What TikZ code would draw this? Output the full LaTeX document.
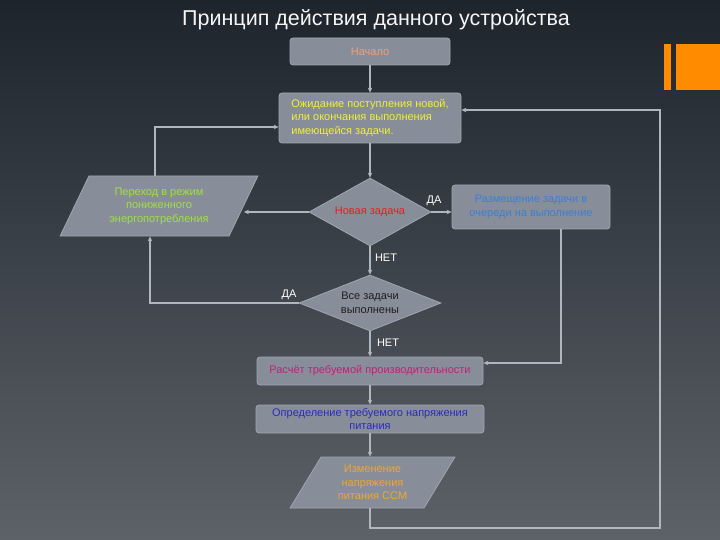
\documentclass[tikz,border=0pt]{standalone}
\usepackage{fontspec}
\setmainfont{Liberation Sans}
\usetikzlibrary{shapes.geometric,arrows.meta}
\definecolor{bgtop}{RGB}{30,36,44}
\definecolor{bgmid}{RGB}{40,47,56}
\definecolor{bgbot}{RGB}{92,98,104}
\definecolor{boxfill}{RGB}{136,142,153}
\definecolor{boxline}{RGB}{160,166,174}
\definecolor{linec}{RGB}{176,182,190}
\definecolor{orangebar}{RGB}{255,140,0}
\definecolor{tstart}{RGB}{240,160,120}
\definecolor{twait}{RGB}{240,240,50}
\definecolor{tpe}{RGB}{160,224,64}
\definecolor{tnz}{RGB}{224,32,32}
\definecolor{tpl}{RGB}{58,127,216}
\definecolor{tvz}{RGB}{30,30,30}
\definecolor{tcalc}{RGB}{192,32,122}
\definecolor{tdet}{RGB}{42,42,192}
\definecolor{tchg}{RGB}{240,165,50}
\begin{document}
\begin{tikzpicture}[x=1pt,y=-1pt,
  box/.style={draw=boxline, fill=boxfill, rounded corners=3pt, line width=0.8pt,
    inner sep=2pt, align=center, font=\fontsize{11}{13.5}\selectfont},
  dia/.style={diamond, draw=boxline, fill=boxfill, line width=0.8pt, inner sep=0pt,
    align=center, font=\fontsize{11}{13.5}\selectfont},
  para/.style={trapezium, trapezium stretches=true, draw=boxline, fill=boxfill,
    line width=0.8pt, inner sep=0pt, align=center, font=\fontsize{11}{13.5}\selectfont},
  conn/.style={draw=linec, line width=1.2pt, -{Stealth[length=5pt,width=4.5pt]}},
  lbl/.style={text=white, font=\fontsize{11}{13}\selectfont, inner sep=1pt}]
\useasboundingbox (0,0) rectangle (720,540);
\shade[top color=bgtop, middle color=bgmid, bottom color=bgbot] (0,0) rectangle (720,540);
% title
\node[text=white!92!gray, font=\fontsize{21.5}{24}\selectfont] (title) at (376,20) {Принцип действия данного устройства};
% orange bar
\fill[orangebar] (664,44) rectangle (671,90);
\fill[orangebar] (676,44) rectangle (720,90);
% nodes
\node[box, minimum width=160, minimum height=27, text=tstart] (start) at (370,51.5) {Начало};
\node[box, minimum width=182, minimum height=50, align=left, text=twait] (wait) at (370,118)
  {Ожидание поступления новой,\\или окончания выполнения\\имеющейся задачи.};
\node[para, trapezium left angle=61, trapezium right angle=119, minimum width=198, minimum height=60, text=tpe] (pe) at (159,206)
  {Переход в режим\\пониженного\\энергопотребления};
\node[dia, aspect=2.2, minimum width=122, minimum height=68, text=tnz] (nz) at (370,212) {Новая задача};
\node[box, minimum width=158, minimum height=44, text=tpl] (pl) at (531,207) {Размещение задачи в\\очереди на выполнение};
\node[dia, aspect=2.6, minimum width=142, minimum height=56, text=tvz] (vz) at (370,303) {Все задачи\\выполнены};
\node[box, minimum width=226, minimum height=28, text=tcalc] (calc) at (370,371) {Расчёт требуемой производительности};
\node[box, minimum width=228, minimum height=28, text=tdet] (det) at (370,419) {Определение требуемого напряжения\\питания};
\node[para, trapezium left angle=59, trapezium right angle=121, minimum width=165, minimum height=51, text=tchg] (chg) at (372.5,482.5)
  {Изменение\\напряжения\\питания ССМ};
% connectors
\draw[conn] (start.south) -- (wait.north);
\draw[conn] (wait.south) -- (nz.north);
\draw[conn] (nz.west) -- (nz.west -| pe.east);
\draw[conn] (pe.north -| 155,0) |- ([yshift=-9pt]wait.west);
\draw[conn] (nz.east) -- (nz.east -| pl.west);
\draw[conn] (pl.south -| 561,0) |- ([yshift=8pt]calc.east);
\draw[conn] (nz.south) -- (vz.north);
\draw[conn] (vz.west) -| (pe.south -| 150,0);
\draw[conn] (vz.south) -- (calc.north);
\draw[conn] (calc.south) -- (det.north);
\draw[conn] (det.south) -- (det.south |- chg.north);
\coordinate (loopR) at (660,528);
\draw[conn] (chg.south -| det.south) |- (loopR) |- ([yshift=8pt]wait.east);
% labels
\node[lbl] (l1) at (434,201) {ДА};
\node[lbl] (l2) at (386,258) {НЕТ};
\node[lbl] (l3) at (289,295) {ДА};
\node[lbl] (l4) at (388,343) {НЕТ};
\end{tikzpicture}
\end{document}
